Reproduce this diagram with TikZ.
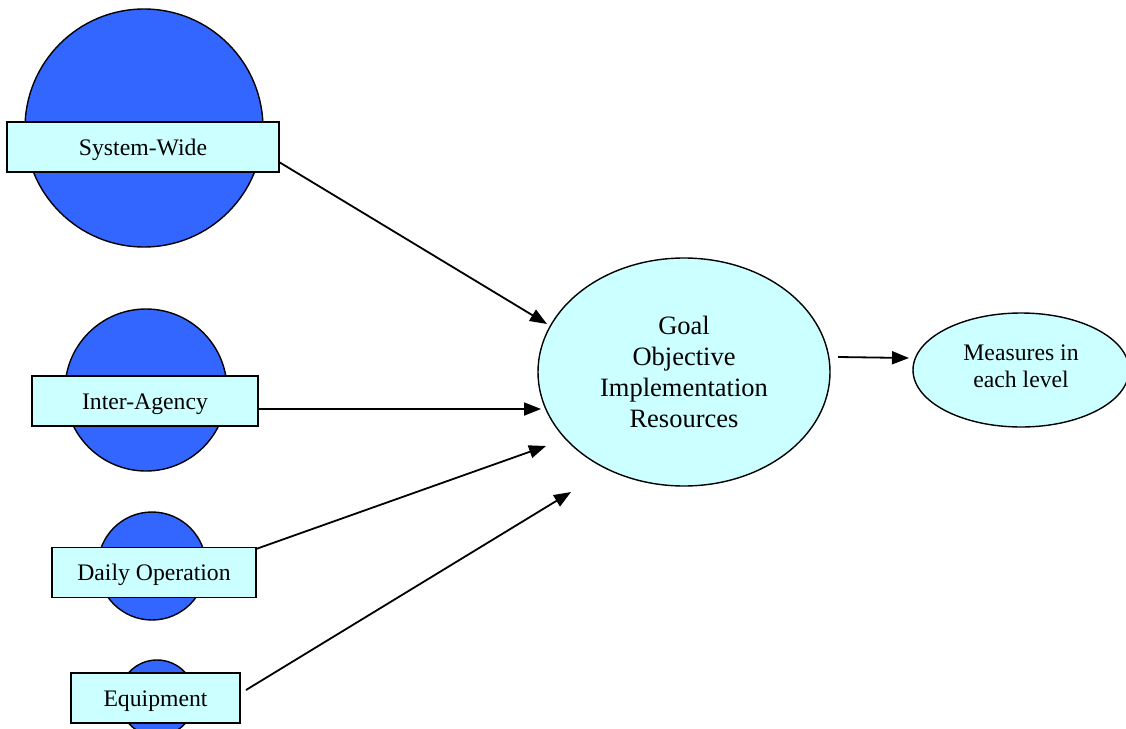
\documentclass[tikz,border=0pt]{standalone}
\usepackage{fontspec}
\setmainfont{Liberation Serif}
\usetikzlibrary{shapes.geometric,arrows.meta}
\definecolor{levelblue}{RGB}{51,102,255}
\definecolor{paleaqua}{RGB}{204,255,255}
\begin{document}
\begin{tikzpicture}[x=1pt,y=-1pt,
  levelcircle/.style={circle,draw=black,line width=1.4pt,fill=levelblue,inner sep=0pt},
  levelbox/.style={rectangle,draw=black,line width=1.8pt,fill=paleaqua,inner sep=0pt,
    minimum height=50pt,text height=16pt,text depth=0pt,font=\fontsize{23.7}{28}\selectfont},
  planbubble/.style={ellipse,draw=black,line width=1.4pt,fill=paleaqua,inner sep=0pt,align=center},
  flow/.style={line width=1.8pt,-{Triangle[length=17pt,width=13pt]}}]
\useasboundingbox (0,0) rectangle (1126,728);

% levels, each a disc with its label bar
\node[levelcircle,minimum size=238pt] (c1) at (144,128) {};
\node[levelbox,minimum width=272pt] (sw) at (143,147) {System-Wide};
\node[levelcircle,minimum size=162pt] (c2) at (146,390) {};
\node[levelbox,minimum width=226pt] (ia) at (145,401) {Inter-Agency};
\node[levelcircle,minimum size=108pt] (c3) at (152,566) {};
\node[levelbox,minimum width=204pt] (dop) at (154,572.5) {Daily Operation};
\node[levelcircle,minimum size=76pt] (c4) at (157,698) {};
\node[levelbox,minimum width=169pt] (eq) at (155.5,698) {Equipment};

% planning and measurement ellipses
\node[planbubble,minimum width=292pt,minimum height=228pt,
  font=\fontsize{26.5}{31}\selectfont] (plan) at (684,372)
  {Goal\\Objective\\Implementation\\Resources};
\node[planbubble,minimum width=216pt,minimum height=114pt,text depth=8pt,
  font=\fontsize{23.7}{27}\selectfont] (meas) at (1021,370)
  {Measures in\\each level};

% connector ends
\coordinate (s1) at (279,162);
\coordinate (t1) at (547,324);
\coordinate (s2) at (258,409);
\coordinate (t2) at (541,409);
\coordinate (s3) at (256,549);
\coordinate (t3) at (546,446);
\coordinate (s4) at (246,690);
\coordinate (t4) at (571,492);
\coordinate (s5) at (838,357);
\coordinate (t5) at (909,358);

\draw[flow] (s1) -- (t1);
\draw[flow] (s2) -- (t2);
\draw[flow] (s3) -- (t3);
\draw[flow] (s4) -- (t4);
\draw[flow] (s5) -- (t5);
\end{tikzpicture}
\end{document}
